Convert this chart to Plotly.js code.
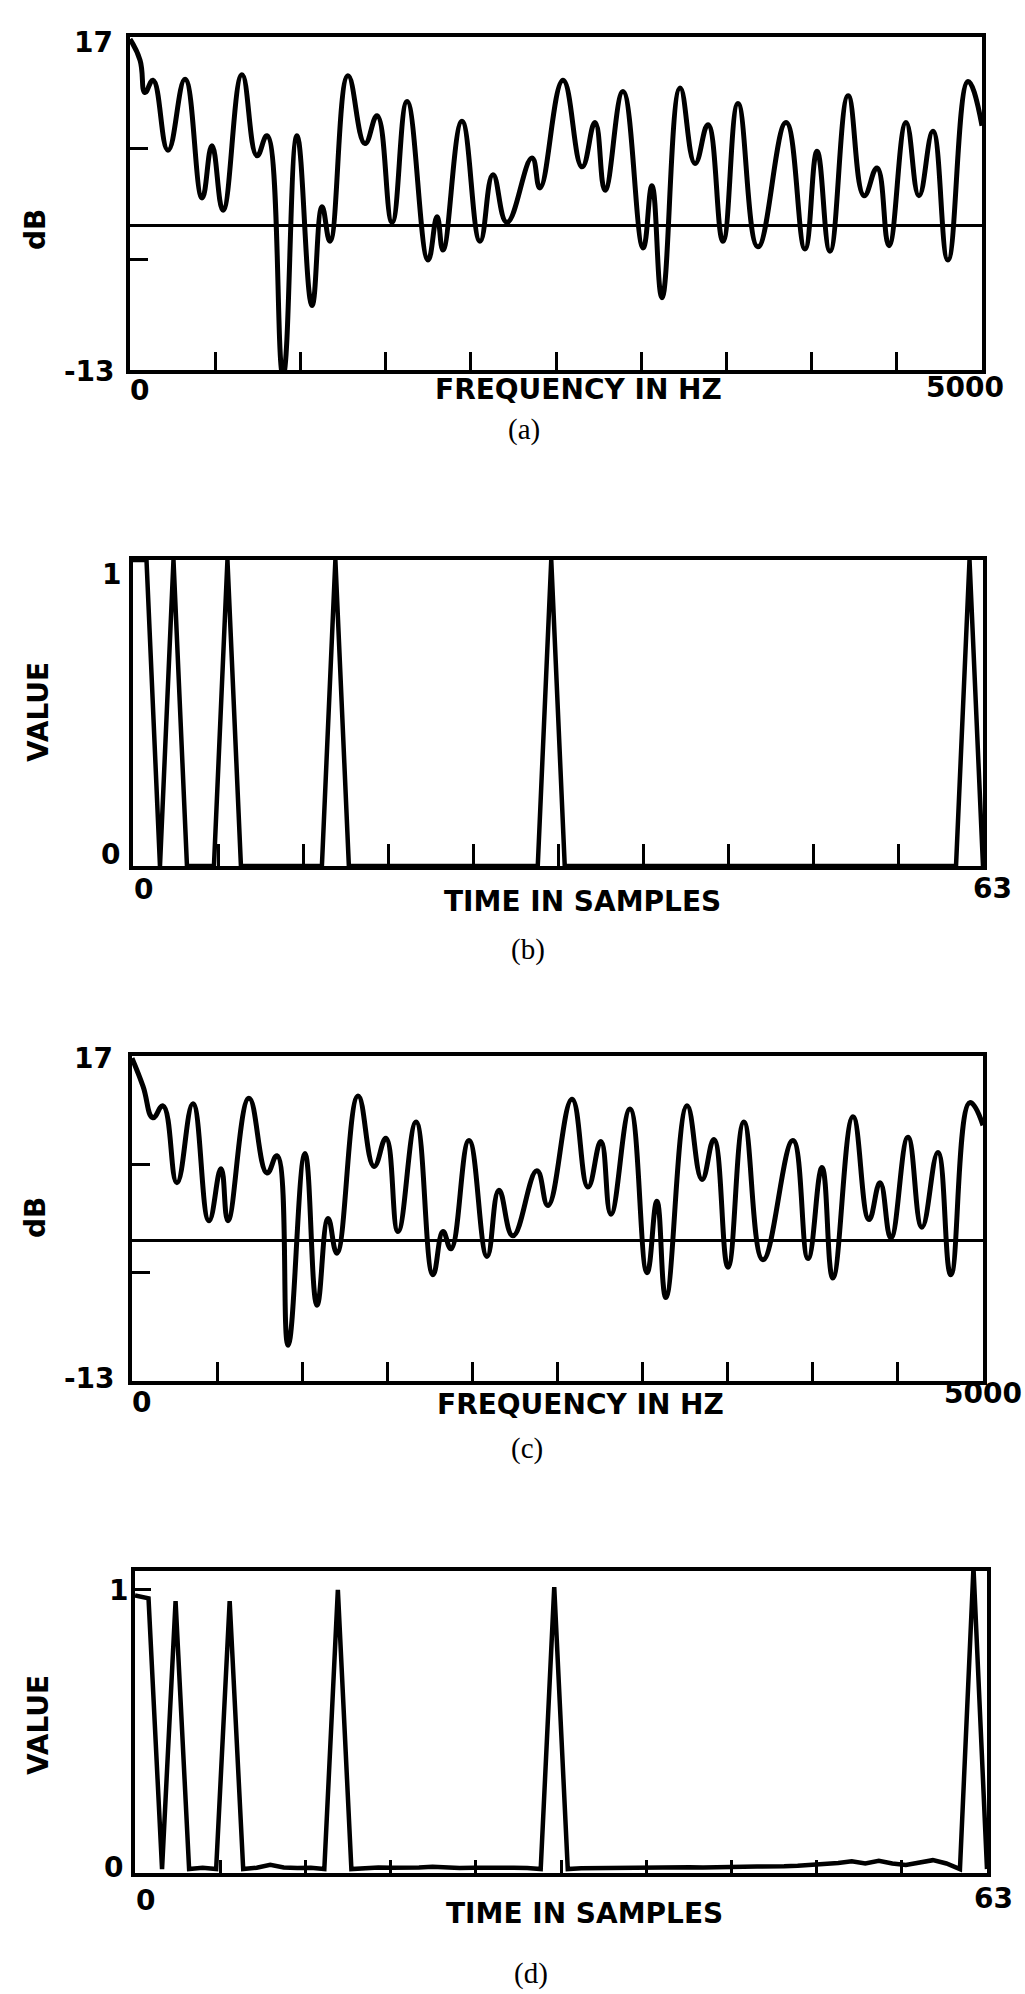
<!DOCTYPE html>
<html>
<head>
<meta charset="utf-8">
<script src="https://cdn.plot.ly/plotly-3.0.1.min.js"></script>
<style>html,body{margin:0;padding:0;background:#fff;}#chart{width:1025px;height:1994px;}</style>
</head>
<body>
<div id="chart"></div>
<script>
// ---- Panel (a): magnitude spectrum (dB) vs frequency (Hz)
const freqA = [0,59,88,135,223,323,423,481,546,657,745,804,898,980,1068,1127,1174,1279,1379,1450,1538,1626,1749,1802,1837,1948,2054,2130,2212,2359,2406,2541,2653,2729,2788,2893,3011,3063,3122,3228,3316,3392,3480,3568,3685,3850,3961,4032,4108,4214,4308,4384,4454,4554,4630,4712,4800,4918,5000];
const dbA   = [16.8,14.9,12.0,13.1,6.8,13.2,2.5,7.2,1.4,13.6,6.3,8.1,-13.5,8.1,-7.2,1.7,-1.4,13.5,7.4,9.9,0.3,11.2,-3.1,0.8,-2.2,9.4,-1.4,4.6,0.3,6.1,3.4,13.1,5.3,9.3,3.2,12.1,-2.0,3.6,-6.5,12.4,5.6,9.1,-1.4,11.0,-1.9,9.3,-2.1,6.7,-2.3,11.7,2.7,5.2,-1.8,9.3,2.7,8.5,-3.1,13.0,9.0];

// ---- Panel (c): magnitude spectrum (dB) vs frequency (Hz)
const freqC = [0,65,123,182,264,358,452,523,564,687,793,852,917,1016,1087,1152,1204,1328,1422,1492,1563,1669,1768,1827,1874,1980,2086,2156,2238,2379,2444,2585,2679,2755,2814,2926,3026,3084,3137,3261,3349,3419,3502,3595,3707,3883,3972,4054,4118,4236,4330,4395,4459,4559,4641,4735,4811,4923,5000];
const dbC   = [16.8,14.2,11.3,12.4,5.3,12.6,1.8,6.6,1.8,13.1,6.2,7.8,-9.7,8.0,-6.0,2.0,-1.2,13.3,6.8,9.4,0.8,10.9,-3.2,0.8,-0.8,9.2,-1.5,4.6,0.4,6.4,3.2,13.0,4.9,9.1,2.4,12.1,-3.0,3.6,-5.3,12.4,5.6,9.3,-2.5,10.9,-1.8,9.2,-1.7,6.7,-3.5,11.4,1.9,5.3,0.2,9.5,1.2,8.1,-3.2,12.7,10.6];

// ---- Panels (b) and (d): value vs time in samples
const samples = [0,1,2,3,4,5,6,7,8,9,10,11,12,13,14,15,16,17,18,19,20,21,22,23,24,25,26,27,28,29,30,31,32,33,34,35,36,37,38,39,40,41,42,43,44,45,46,47,48,49,50,51,52,53,54,55,56,57,58,59,60,61,62,63];
const valueB  = [1,1,0,1,0,0,0,1,0,0,0,0,0,0,0,1,0,0,0,0,0,0,0,0,0,0,0,0,0,0,0,1,0,0,0,0,0,0,0,0,0,0,0,0,0,0,0,0,0,0,0,0,0,0,0,0,0,0,0,0,0,0,1,0];
const valueD  = [0.98,0.97,0,0.96,0,0.005,0,0.96,0,0.005,0.015,0.006,0.004,0.005,0,1.0,0,0.004,0.006,0.005,0.004,0.006,0.008,0.005,0.004,0.005,0.006,0.008,0.005,0.004,0,1.01,0,0.003,0.004,0.005,0.004,0.005,0.006,0.005,0.006,0.007,0.006,0.008,0.007,0.008,0.009,0.008,0.01,0.012,0.015,0.018,0.022,0.028,0.02,0.03,0.02,0.015,0.022,0.032,0.02,0,1.08,0];

// ---- Tick positions
const freqTicks = [0,500,1000,1500,2000,2500,3000,3500,4000,4500,5000];
const dbTicks = [-13,-3,7,17];
const timeTicks = [6.3,12.6,18.9,25.2,31.5,37.8,44.1,50.4,56.7];

const W = 1025, H = 1994;
const px = x => x / W;
const py = y => 1 - y / H;

const curveLine = {color:'#000', width:5, shape:'spline', smoothing:1.3};
const spikeLine = {color:'#000', width:4.5};
const traces = [
  {x:freqA, y:dbA, xaxis:'x', yaxis:'y', mode:'lines', line:curveLine, hoverinfo:'skip'},
  {x:samples, y:valueB, xaxis:'x2', yaxis:'y2', mode:'lines', line:spikeLine, hoverinfo:'skip'},
  {x:freqC, y:dbC, xaxis:'x3', yaxis:'y3', mode:'lines', line:curveLine, hoverinfo:'skip'},
  {x:samples, y:valueD, xaxis:'x4', yaxis:'y4', mode:'lines', line:spikeLine, hoverinfo:'skip'}
];

function xAx(domain, range, tickvals, ticklen){
  return {domain:domain, range:range, showline:true, mirror:true, linecolor:'#000', linewidth:4,
    showgrid:false, zeroline:false, ticks:'inside', tickvals:tickvals, ticklen:ticklen, tickwidth:3,
    tickcolor:'#000', showticklabels:false, fixedrange:true};
}
function yAx(domain, range, tickvals, ticklen, zero){
  return {domain:domain, range:range, showline:true, mirror:true, linecolor:'#000', linewidth:4,
    showgrid:false, zeroline:zero, zerolinecolor:'#000', zerolinewidth:3,
    ticks: tickvals.length ? 'inside' : '', tickvals:tickvals, ticklen:ticklen, tickwidth:3,
    tickcolor:'#000', showticklabels:false, fixedrange:true};
}

const sansF = {family:'DejaVu Sans, Liberation Sans, sans-serif', size:28, color:'#000'};
const serifF = {family:'Liberation Serif, DejaVu Serif, serif', size:29, color:'#000'};
function ann(text, x, y, opts){
  return Object.assign({text:'<b>'+text+'</b>', x:px(x), y:py(y), xref:'paper', yref:'paper',
    showarrow:false, xanchor:'center', yanchor:'middle', font:sansF}, opts||{});
}
function cap(text, x, y){
  return {text:text, x:px(x), y:py(y), xref:'paper', yref:'paper', showarrow:false,
    xanchor:'center', yanchor:'middle', font:serifF};
}

const annotations = [
  // (a)
  ann('17', 93, 43), ann('-13', 89, 371), ann('dB', 35, 230, {textangle:-90}),
  ann('0', 139, 391), ann('5000', 965, 387), ann('FREQUENCY IN HZ', 578, 389), cap('(a)', 524, 429),
  // (b)
  ann('1', 111, 574), ann('0', 110, 855), ann('VALUE', 38, 712, {textangle:-90}),
  ann('0', 143, 890), ann('TIME IN SAMPLES', 582, 902), ann('63', 992, 888), cap('(b)', 528, 950),
  // (c)
  ann('17', 93, 1058), ann('-13', 89, 1378), ann('dB', 35, 1218, {textangle:-90}),
  ann('0', 141, 1402), ann('5000', 983, 1393), ann('FREQUENCY IN HZ', 580, 1404), cap('(c)', 527, 1448),
  // (d)
  ann('1', 118, 1590), ann('0', 113, 1867), ann('VALUE', 38, 1725, {textangle:-90}),
  ann('0', 145, 1900), ann('TIME IN SAMPLES', 584, 1913), ann('63', 993, 1898), cap('(d)', 531, 1973)
];

const layout = {
  width:W, height:H, autosize:false, showlegend:false,
  margin:{l:0, r:0, t:0, b:0, pad:0},
  paper_bgcolor:'#fff', plot_bgcolor:'#fff',
  xaxis:  xAx([px(130), px(982)], [0,5000], freqTicks, 18),
  yaxis:  yAx([py(370), py(37)], [-13,17], dbTicks, 18, true),
  xaxis2: xAx([px(133), px(983)], [0,63], timeTicks, 22),
  yaxis2: yAx([py(866), py(560)], [0,1], [], 0, false),
  xaxis3: xAx([px(132), px(983)], [0,5000], freqTicks, 19),
  yaxis3: yAx([py(1381), py(1056)], [-13,17], dbTicks, 18, true),
  xaxis4: xAx([px(135), px(987)], [0,63], timeTicks, 13),
  yaxis4: yAx([py(1873), py(1571)], [-0.014,1.068], [1], 16, false),
  annotations: annotations
};
layout.xaxis.anchor='y'; layout.yaxis.anchor='x';
layout.xaxis2.anchor='y2'; layout.yaxis2.anchor='x2';
layout.xaxis3.anchor='y3'; layout.yaxis3.anchor='x3';
layout.xaxis4.anchor='y4'; layout.yaxis4.anchor='x4';

Plotly.newPlot('chart', traces, layout, {displayModeBar:false, staticPlot:true});
</script>
</body>
</html>
